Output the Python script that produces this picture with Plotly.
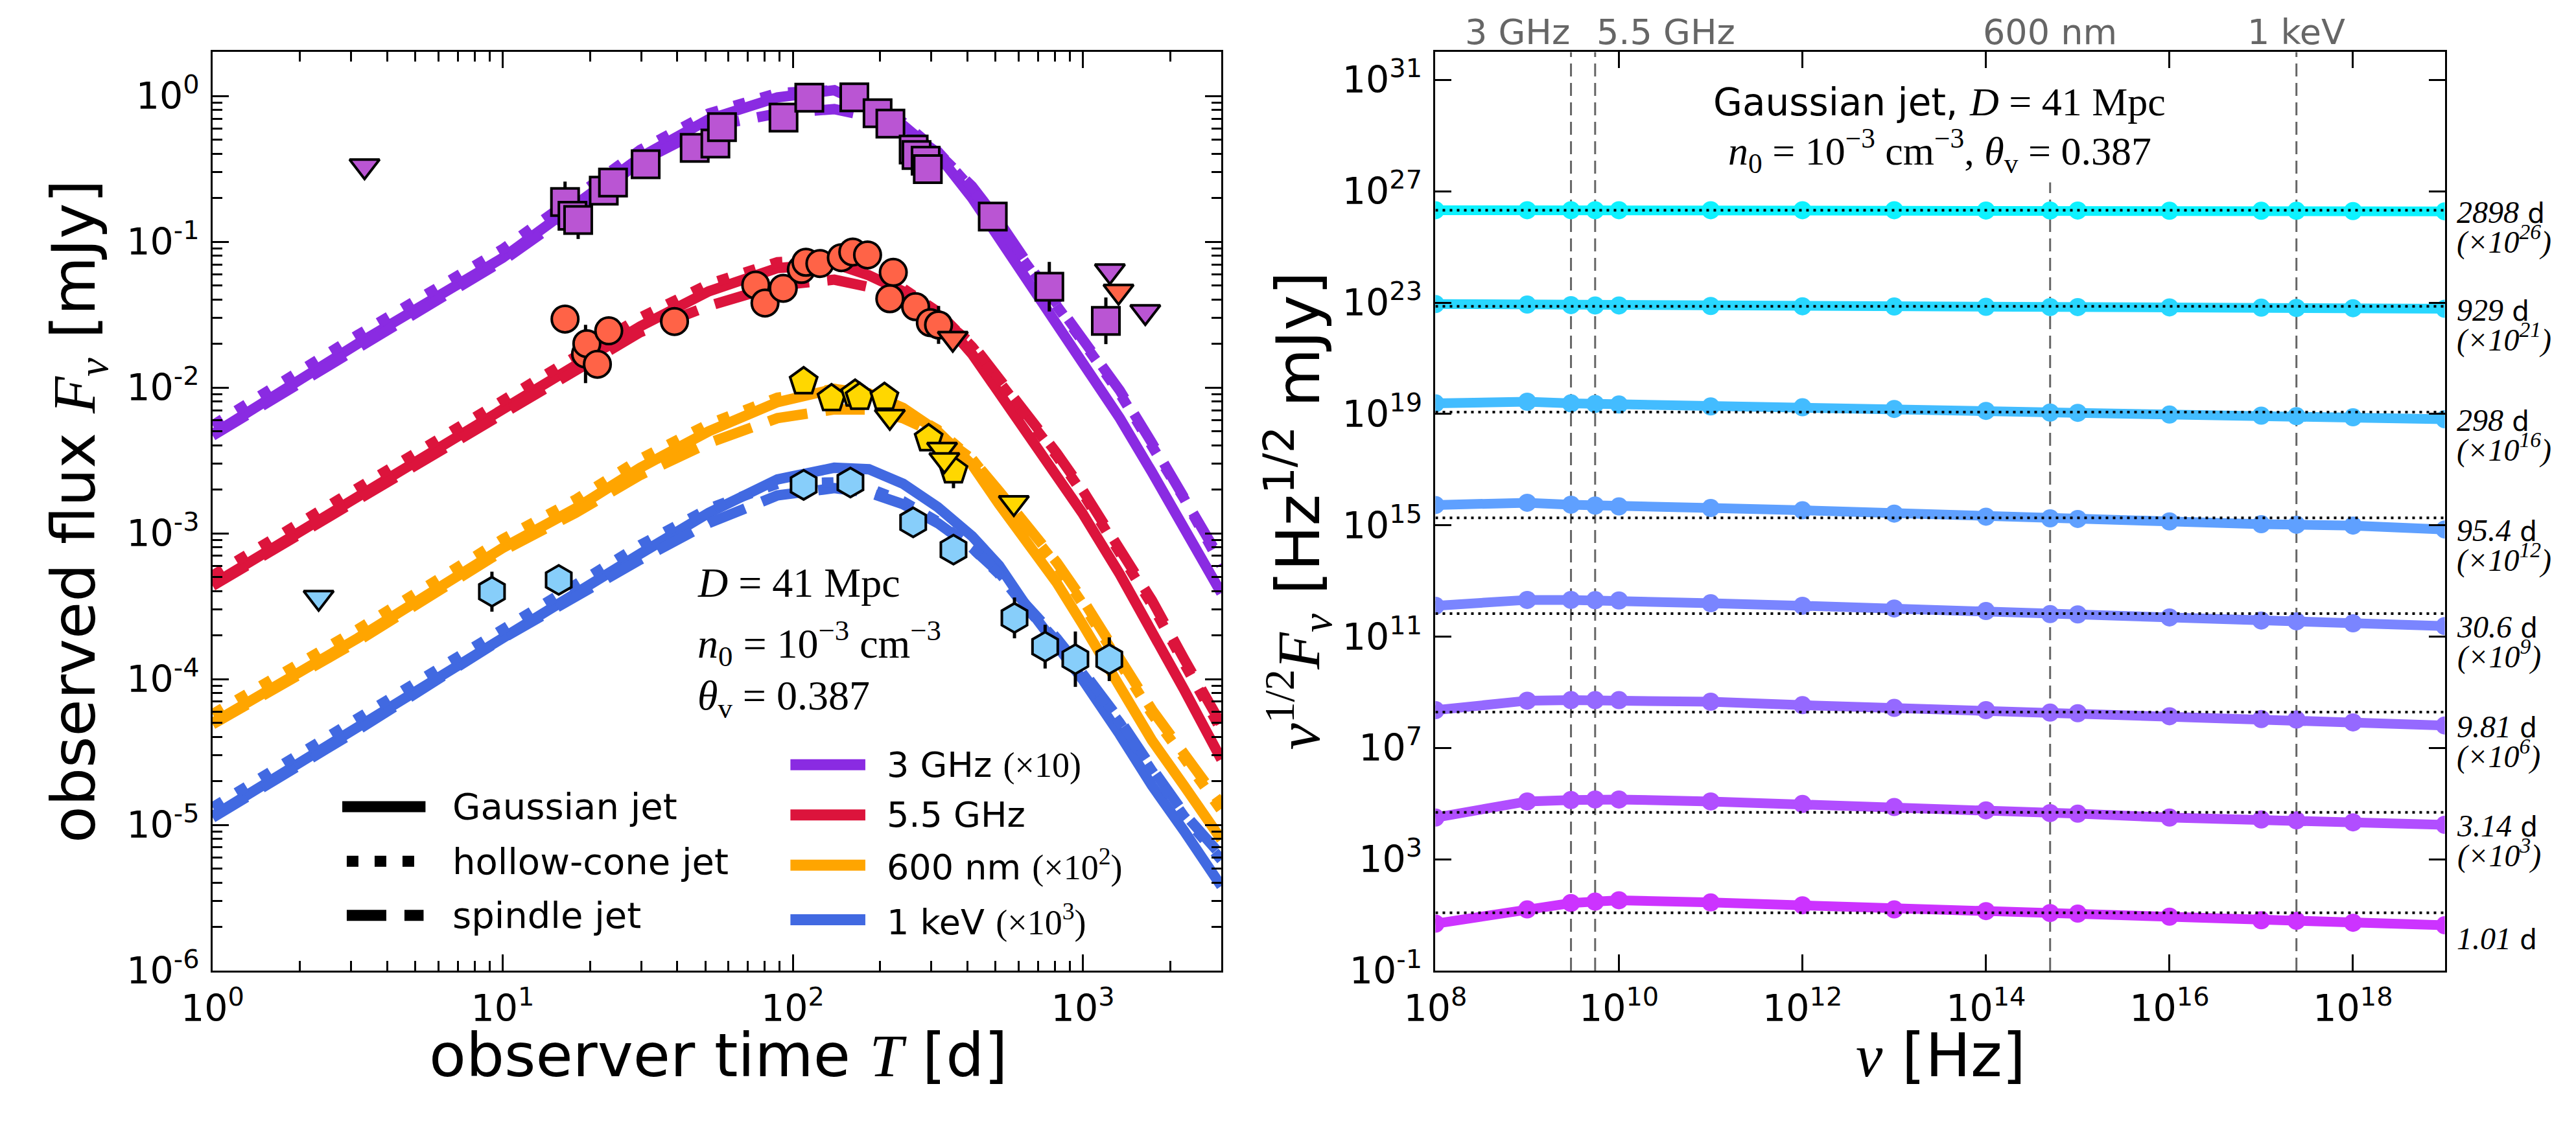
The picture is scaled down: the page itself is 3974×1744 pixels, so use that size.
import math
import plotly.graph_objects as go

W, H = 3974, 1744

# ======================= LEFT PANEL: light curves =======================
T_MODEL = [1, 3.16, 10, 17.8, 29.8, 51.3, 88.5, 139, 183, 240, 316, 415, 514, 630,
           813, 995, 1340, 1730, 2230, 3000]

# log10 of model flux [mJy] (band scale factors already applied)
LOGF_3GHZ_GAUSS = [-2.32, -1.70, -1.11, -0.75, -0.42, -0.16, -0.01, 0.04, -0.07, -0.20,
                   -0.40, -0.70, -0.97, -1.25, -1.57, -1.83, -2.21, -2.58, -2.95, -3.41]
LOGF_3GHZ_HOLLOW = [-2.26, -1.64, -1.05, -0.69, -0.37, -0.12, 0.02, 0.04, -0.05, -0.18,
                    -0.38, -0.64, -0.89, -1.14, -1.44, -1.68, -2.04, -2.40, -2.76, -3.22]
LOGF_3GHZ_SPINDLE = [-2.33, -1.72, -1.13, -0.78, -0.45, -0.21, -0.12, -0.09, -0.14, -0.22,
                     -0.39, -0.62, -0.86, -1.12, -1.42, -1.66, -2.02, -2.38, -2.74, -3.19]

LOGF_55GHZ_GAUSS = [-3.35, -2.75, -2.16, -1.86, -1.58, -1.34, -1.18, -1.15, -1.23, -1.34,
                    -1.50, -1.77, -2.04, -2.27, -2.59, -2.86, -3.28, -3.66, -4.07, -4.55]
LOGF_55GHZ_HOLLOW = [-3.29, -2.69, -2.10, -1.80, -1.52, -1.29, -1.14, -1.12, -1.20, -1.32,
                     -1.48, -1.72, -1.95, -2.17, -2.47, -2.72, -3.13, -3.49, -3.89, -4.35]
LOGF_55GHZ_SPINDLE = [-3.36, -2.77, -2.18, -1.89, -1.62, -1.44, -1.30, -1.26, -1.31, -1.38,
                      -1.51, -1.70, -1.93, -2.15, -2.45, -2.70, -3.10, -3.46, -3.86, -4.31]

LOGF_600NM_GAUSS = [-4.30, -3.72, -3.10, -2.83, -2.55, -2.30, -2.10, -2.01, -2.04, -2.14,
                    -2.30, -2.53, -2.80, -3.03, -3.34, -3.62, -4.05, -4.42, -4.73, -5.10]
LOGF_600NM_HOLLOW = [-4.24, -3.66, -3.04, -2.77, -2.49, -2.25, -2.07, -2.01, -2.05, -2.15,
                     -2.29, -2.49, -2.72, -2.94, -3.22, -3.48, -3.89, -4.24, -4.54, -4.90]
LOGF_600NM_SPINDLE = [-4.31, -3.74, -3.12, -2.86, -2.60, -2.38, -2.21, -2.15, -2.15, -2.21,
                      -2.32, -2.49, -2.71, -2.92, -3.20, -3.45, -3.86, -4.21, -4.51, -4.86]

LOGF_1KEV_GAUSS = [-4.94, -4.33, -3.70, -3.40, -3.14, -2.86, -2.63, -2.55, -2.56, -2.66,
                   -2.82, -3.02, -3.22, -3.48, -3.76, -4.00, -4.38, -4.73, -5.04, -5.42]
LOGF_1KEV_HOLLOW = [-4.88, -4.27, -3.64, -3.34, -3.08, -2.83, -2.66, -2.65, -2.69, -2.78,
                    -2.92, -3.10, -3.28, -3.50, -3.74, -3.96, -4.30, -4.63, -4.94, -5.24]
LOGF_1KEV_SPINDLE = [-4.95, -4.35, -3.72, -3.43, -3.18, -2.93, -2.74, -2.69, -2.72, -2.80,
                     -2.93, -3.10, -3.27, -3.48, -3.72, -3.94, -4.28, -4.61, -4.92, -5.21]

BAND_COLORS = ["#8A2BE2", "#DC143C", "#FFA500", "#4169E1"]
BAND_MODELS = [
    (LOGF_3GHZ_GAUSS, LOGF_3GHZ_HOLLOW, LOGF_3GHZ_SPINDLE),
    (LOGF_55GHZ_GAUSS, LOGF_55GHZ_HOLLOW, LOGF_55GHZ_SPINDLE),
    (LOGF_600NM_GAUSS, LOGF_600NM_HOLLOW, LOGF_600NM_SPINDLE),
    (LOGF_1KEV_GAUSS, LOGF_1KEV_HOLLOW, LOGF_1KEV_SPINDLE),
]

# Observations (detections): time [d], flux [mJy], 1-sigma error [dex]
OBS_3GHZ_T = [16.4, 17.4, 18.2, 22.3, 24.0, 31.1, 45.9, 54.1, 57.0, 92.9, 114, 163, 196,
              217, 261, 267, 287, 292, 489, 766, 1200]
OBS_3GHZ_F = [0.1875, 0.151, 0.141, 0.224, 0.255, 0.340, 0.441, 0.472, 0.612, 0.711, 0.973,
              0.98, 0.762, 0.646, 0.429, 0.394, 0.360, 0.315, 0.149, 0.0492, 0.0287]
OBS_3GHZ_E = [0.14, 0.08, 0.13, 0, 0, 0, 0, 0, 0, 0, 0, 0, 0, 0, 0, 0, 0, 0, 0.05, 0.17, 0.16]

OBS_55GHZ_T = [16.4, 19.3, 19.5, 21.2, 23.2, 39.1, 74.5, 80.2, 92.7, 107, 111, 124, 147,
               161, 181, 222, 216, 265, 298, 318]
OBS_55GHZ_F = [0.0295, 0.0170, 0.0200, 0.01445, 0.0245, 0.0284, 0.0505, 0.0380, 0.0480,
               0.0646, 0.0724, 0.0710, 0.0778, 0.0851, 0.0813, 0.0617, 0.0407, 0.0359,
               0.0279, 0.0269]
OBS_55GHZ_E = [0, 0.2, 0, 0.05, 0, 0.05, 0, 0, 0, 0, 0, 0, 0, 0.03, 0, 0, 0.03, 0.04, 0.06, 0.13]

OBS_600NM_T = [109, 136, 164, 170, 207, 294, 358]
OBS_600NM_F = [0.0110, 0.00841, 0.00904, 0.00859, 0.00859, 0.00447, 0.00269]
OBS_600NM_E = [0.03, 0.05, 0.03, 0.04, 0.05, 0.03, 0.12]

OBS_1KEV_T = [9.18, 15.6, 109, 158, 260, 358, 581, 741, 942, 1233]
OBS_1KEV_F = [3.98e-4, 4.79e-4, 2.15e-3, 2.23e-3, 1.19e-3, 7.73e-4, 2.63e-4, 1.67e-4,
              1.37e-4, 1.37e-4]
OBS_1KEV_E = [0.137, 0.10, 0, 0, 0, 0, 0.14, 0.15, 0.19, 0.15]

# Upper limits
UL_3GHZ_T = [3.34, 1239, 1641]
UL_3GHZ_F = [0.331, 0.0631, 0.0331]
UL_55GHZ_T = [356, 1327]
UL_55GHZ_F = [0.0217, 0.0457]
UL_600NM_T = [216, 327, 333, 578]
UL_600NM_F = [0.00632, 0.00376, 0.00319, 0.00162]
UL_1KEV_T = [2.32]
UL_1KEV_F = [3.63e-4]

OBS_SETS = [
    (OBS_3GHZ_T, OBS_3GHZ_F, OBS_3GHZ_E, UL_3GHZ_T, UL_3GHZ_F, "square", "#BA55D3"),
    (OBS_55GHZ_T, OBS_55GHZ_F, OBS_55GHZ_E, UL_55GHZ_T, UL_55GHZ_F, "circle", "#FF6347"),
    (OBS_600NM_T, OBS_600NM_F, OBS_600NM_E, UL_600NM_T, UL_600NM_F, "pentagon", "#FFD700"),
    (OBS_1KEV_T, OBS_1KEV_F, OBS_1KEV_E, UL_1KEV_T, UL_1KEV_F, "hexagon", "#87CEFA"),
]
OBS_SIZES = {"square": 42, "circle": 41, "pentagon": 44, "hexagon": 45}

# ======================= RIGHT PANEL: spectra =======================
NU = [1e8, 1e9, 3e9, 5.5e9, 1e10, 1e11, 1e12, 1e13, 1e14, 5e14, 1e15, 1e16, 1e17,
      2.418e17, 1e18, 1e19]
SPEC_TIMES = ["2898", "929", "298", "95.4", "30.6", "9.81", "3.14", "1.01"]
SPEC_SCALE_EXP = [26, 21, 16, 12, 9, 6, 3, 0]
# log10 of nu^(1/2) F_nu [Hz^1/2 mJy] (unscaled)
SPEC_2898 = [0.32, 0.32, 0.32, 0.32, 0.32, 0.32, 0.32, 0.32, 0.31, 0.31, 0.31, 0.30, 0.30,
             0.30, 0.29, 0.28]
SPEC_929 = [1.95, 1.93, 1.91, 1.90, 1.90, 1.88, 1.87, 1.86, 1.85, 1.84, 1.84, 1.83, 1.82,
            1.81, 1.80, 1.78]
SPEC_298 = [3.38, 3.44, 3.38, 3.36, 3.34, 3.27, 3.24, 3.18, 3.11, 3.05, 3.04, 2.98, 2.94,
            2.92, 2.88, 2.81]
SPEC_95 = [3.73, 3.81, 3.74, 3.71, 3.68, 3.62, 3.54, 3.42, 3.31, 3.25, 3.23, 3.14, 3.04,
           3.02, 2.99, 2.85]
SPEC_30 = [3.11, 3.32, 3.32, 3.31, 3.30, 3.20, 3.11, 3.01, 2.92, 2.81, 2.80, 2.69, 2.58,
           2.55, 2.48, 2.38]
SPEC_9 = [2.36, 2.70, 2.72, 2.72, 2.72, 2.66, 2.54, 2.44, 2.36, 2.27, 2.25, 2.14, 2.04,
          2.02, 1.92, 1.81]
SPEC_3 = [1.50, 2.08, 2.13, 2.15, 2.15, 2.08, 1.99, 1.88, 1.76, 1.66, 1.64, 1.50, 1.43,
          1.40, 1.33, 1.24]
SPEC_1 = [0.69, 1.20, 1.43, 1.48, 1.53, 1.45, 1.35, 1.20, 1.14, 1.07, 1.05, 0.94, 0.81,
          0.79, 0.72, 0.63]
SPEC_SERIES = [SPEC_2898, SPEC_929, SPEC_298, SPEC_95, SPEC_30, SPEC_9, SPEC_3, SPEC_1]
# log10 of dotted reference levels (unscaled)
SPEC_REF = [0.32, 1.87, 3.07, 3.27, 2.83, 2.29, 1.69, 1.08]
SPEC_COLORS = ["#0DF2FF", "#28D7FF", "#43BCFF", "#5FA0FF", "#7A85FF", "#9569FF",
               "#B14EFF", "#CC33FF"]

BAND_FREQ = [3e9, 5.5e9, 5e14, 2.418e17]
BAND_LABEL = ["3 GHz", "5.5 GHz", "600 nm", "1 keV"]
BAND_LABEL_ANCHOR = ["right", "left", "center", "center"]

# ======================= helpers =======================
SANS = "DejaVu Sans"
SERIF = "Liberation Serif"


def px(x):
    return x / W


def py(y):
    return 1 - y / H


def serif(s, size=None):
    st = "font-family:%s" % SERIF
    if size:
        st += ";font-size:%dpx" % size
    return "<span style='%s'>%s</span>" % (st, s)


fig = go.Figure()

# --- model curves ---
DASHES = ["solid", "18px,25px", "61px,28px"]
for color, models in zip(BAND_COLORS, BAND_MODELS):
    for order in (0, 2, 1):
        fig.add_trace(go.Scatter(
            x=T_MODEL, y=[10 ** v for v in models[order]], mode="lines",
            line=dict(color=color, width=16, dash=DASHES[order]),
            xaxis="x", yaxis="y", showlegend=False, hoverinfo="skip"))

# --- observations ---
for T, F, E, UT, UF, sym, col in OBS_SETS:
    up = [f * (10 ** e - 1) for f, e in zip(F, E)]
    dn = [f * (1 - 10 ** (-e)) for f, e in zip(F, E)]
    fig.add_trace(go.Scatter(
        x=T, y=F, mode="markers",
        marker=dict(symbol=sym, size=OBS_SIZES[sym], color=col,
                    line=dict(color="black", width=4)),
        error_y=dict(type="data", symmetric=False, array=up, arrayminus=dn,
                     color="black", thickness=5, width=0),
        xaxis="x", yaxis="y", showlegend=False, hoverinfo="skip"))
    fig.add_trace(go.Scatter(
        x=UT, y=UF, mode="markers",
        marker=dict(symbol="triangle-down", size=40, color=col,
                    line=dict(color="black", width=4)),
        xaxis="x", yaxis="y", showlegend=False, hoverinfo="skip"))

# --- spectra ---
for vals, k, col in zip(SPEC_SERIES, SPEC_SCALE_EXP, SPEC_COLORS):
    fig.add_trace(go.Scatter(
        x=NU, y=[10 ** (v + k) for v in vals], mode="lines+markers",
        line=dict(color=col, width=15), marker=dict(size=28, color=col),
        xaxis="x2", yaxis="y2", showlegend=False, hoverinfo="skip"))
for ref, k in zip(SPEC_REF, SPEC_SCALE_EXP):
    fig.add_trace(go.Scatter(
        x=[NU[0], NU[-1]], y=[10 ** (ref + k)] * 2, mode="lines",
        line=dict(color="black", width=4, dash="4px,7px"),
        xaxis="x2", yaxis="y2", showlegend=False, hoverinfo="skip"))

shapes = []
annotations = []

# vertical band lines in spectra panel
for f, lab, anc in zip(BAND_FREQ, BAND_LABEL, BAND_LABEL_ANCHOR):
    ytop = py(287) if lab == "600 nm" else py(82)
    shapes.append(dict(type="line", xref="x2", yref="paper", x0=f, x1=f,
                       y0=py(1527), y1=ytop, layer="below",
                       line=dict(color="#666666", width=3, dash="20px,10px")))
    annotations.append(dict(xref="x2", yref="paper", x=math.log10(f), y=py(50), text=lab,
                            showarrow=False, xanchor=anc, yanchor="middle",
                            font=dict(family=SANS, size=54, color="#666666")))

# spectra labels on the right (two lines, tight spacing)
for t, k, vals in zip(SPEC_TIMES, SPEC_SCALE_EXP, SPEC_SERIES):
    ylog = vals[-1] + k
    line1 = serif("<i>%s</i>" % t, 48) + "<span style='font-size:42px'> d</span>"
    if k > 0:
        line2 = serif("<i>(×10<sup>%d</sup>)</i>" % k, 48)
        annotations.append(dict(xref="paper", yref="y2", x=px(3786), y=ylog, yshift=27,
                                text=line1 + "<br>" + line2, showarrow=False,
                                xanchor="left", yanchor="top", align="left",
                                font=dict(family=SANS, size=35, color="black")))
    else:
        annotations.append(dict(xref="paper", yref="y2", x=px(3786), y=ylog, yshift=-20,
                                text=line1, showarrow=False,
                                xanchor="left", yanchor="middle",
                                font=dict(family=SANS, size=35, color="black")))

# spectra panel title box
annotations.append(dict(xref="paper", yref="paper", x=px(2980), y=py(161),
                        text="Gaussian jet, " + serif("<i>D</i> = 41 Mpc", 62),
                        showarrow=False, xanchor="center", yanchor="middle",
                        font=dict(family=SANS, size=58, color="black")))
annotations.append(dict(xref="paper", yref="paper", x=px(2980), y=py(237),
                        text=serif("<i>n</i><sub>0</sub> = 10<sup>−3</sup> cm<sup>−3</sup>, "
                                   "<i>θ</i><sub>v</sub> = 0.387"),
                        showarrow=False, xanchor="center", yanchor="middle",
                        font=dict(family=SERIF, size=62, color="black")))

# light-curve panel parameter text
for txt, yy in [("<i>D</i> = 41 Mpc", 917),
                ("<i>n</i><sub>0</sub> = 10<sup>−3</sup> cm<sup>−3</sup>", 1012),
                ("<i>θ</i><sub>v</sub> = 0.387", 1099)]:
    annotations.append(dict(xref="paper", yref="paper", x=px(1038), y=py(yy), text=txt,
                            showarrow=False, xanchor="left", yanchor="middle",
                            font=dict(family=SERIF, size=64, color="black")))

# manual legend: jet models
JET_LABELS = ["Gaussian jet", "hollow-cone jet", "spindle jet"]
JET_LEG_Y = [1269, 1355, 1440]
JET_LEG_X = [(485, 615), (492, 615), (492, 612)]
for lab, yy, (xa, xb), d in zip(JET_LABELS, JET_LEG_Y, JET_LEG_X, DASHES):
    shapes.append(dict(type="line", xref="paper", yref="paper", x0=px(xa), x1=px(xb),
                       y0=py(yy), y1=py(yy), line=dict(color="black", width=17, dash=d)))
    annotations.append(dict(xref="paper", yref="paper", x=px(655), y=py(yy), text=lab,
                            showarrow=False, xanchor="left", yanchor="middle",
                            font=dict(family=SANS, size=56, color="black")))

# manual legend: bands
BAND_LEG_TEXT = ["3 GHz " + serif("(×10)"), "5.5 GHz",
                 "600 nm " + serif("(×10<sup>2</sup>)"), "1 keV " + serif("(×10<sup>3</sup>)")]
BAND_LEG_Y = [1203, 1282, 1361, 1447]
for txt, yy, col in zip(BAND_LEG_TEXT, BAND_LEG_Y, BAND_COLORS):
    shapes.append(dict(type="line", xref="paper", yref="paper", x0=px(1185), x1=px(1302),
                       y0=py(yy), y1=py(yy), line=dict(color=col, width=17)))
    annotations.append(dict(xref="paper", yref="paper", x=px(1333), y=py(yy), text=txt,
                            showarrow=False, xanchor="left", yanchor="middle",
                            font=dict(family=SANS, size=54, color="black")))

# axis titles
TITLE_SIZE = 93
annotations += [
    dict(xref="paper", yref="paper", x=px(72), y=py(804), textangle=-90,
         text="observed flux " + serif("<i>F</i><sub><i>ν</i></sub>") + " [mJy]",
         showarrow=False, xanchor="center", yanchor="middle",
         font=dict(family=SANS, size=TITLE_SIZE, color="black")),
    dict(xref="paper", yref="paper", x=px(1072), y=py(1660),
         text="observer time " + serif("<i>T</i>") + " [d]",
         showarrow=False, xanchor="center", yanchor="middle",
         font=dict(family=SANS, size=TITLE_SIZE, color="black")),
    dict(xref="paper", yref="paper", x=px(1978), y=py(804), textangle=-90,
         text=serif("<i>ν</i><sup>1/2</sup><i>F</i><sub><i>ν</i></sub>")
         + " [Hz<sup>1/2</sup> mJy]",
         showarrow=False, xanchor="center", yanchor="middle",
         font=dict(family=SANS, size=TITLE_SIZE, color="black")),
    dict(xref="paper", yref="paper", x=px(2982), y=py(1660),
         text=serif("<i>ν</i>") + " [Hz]",
         showarrow=False, xanchor="center", yanchor="middle",
         font=dict(family=SANS, size=TITLE_SIZE, color="black")),
]


def decade_minor(lo, hi):
    out = []
    for d in range(lo, hi + 1):
        for m in range(2, 10):
            out.append(m * 10.0 ** d)
    return out


def sup_labels(exps):
    return ["10<sup>%d</sup>" % e for e in exps]


AX = dict(showline=True, linecolor="black", linewidth=3, mirror="ticks", ticks="inside",
          ticklen=25, tickwidth=3, tickcolor="black", showgrid=False, zeroline=False,
          type="log", tickfont=dict(family=SANS, size=57, color="black"))
MINOR = dict(ticks="inside", ticklen=15, tickwidth=2.5, tickcolor="black", showgrid=False)

LX_EXP = [0, 1, 2, 3]
LY_EXP = [-6, -5, -4, -3, -2, -1, 0]
RX_EXP = [8, 10, 12, 14, 16, 18]
RY_EXP = [-1, 3, 7, 11, 15, 19, 23, 27, 31]

fig.update_layout(
    width=W, height=H, margin=dict(l=0, r=0, t=0, b=0),
    paper_bgcolor="white", plot_bgcolor="white", showlegend=False,
    xaxis=dict(AX, domain=[px(282.5), px(1858)], range=[0, 3.4771], anchor="y",
               tickmode="array", tickvals=[10.0 ** e for e in LX_EXP],
               ticktext=sup_labels(LX_EXP), ticklabelstandoff=6,
               minor=dict(MINOR, tickmode="array", tickvals=decade_minor(0, 3))),
    yaxis=dict(AX, domain=[py(1527), py(82)], range=[-6, 0.30103], anchor="x",
               tickmode="array", tickvals=[10.0 ** e for e in LY_EXP],
               ticktext=sup_labels(LY_EXP), ticklabelstandoff=6,
               minor=dict(MINOR, tickmode="array", tickvals=decade_minor(-6, 0))),
    xaxis2=dict(AX, domain=[px(2192.5), px(3769)], range=[8, 19], anchor="y2",
                tickmode="array", tickvals=[10.0 ** e for e in RX_EXP],
                ticktext=sup_labels(RX_EXP), ticklabelstandoff=6),
    yaxis2=dict(AX, domain=[py(1527), py(82)], range=[-1, 32], anchor="x2",
                tickmode="array", tickvals=[10.0 ** e for e in RY_EXP],
                ticktext=sup_labels(RY_EXP), ticklabelstandoff=6),
    shapes=shapes, annotations=annotations,
)

fig.write_html("out.html", config={"displayModeBar": False},
               post_script="document.body.style.margin='0';")
